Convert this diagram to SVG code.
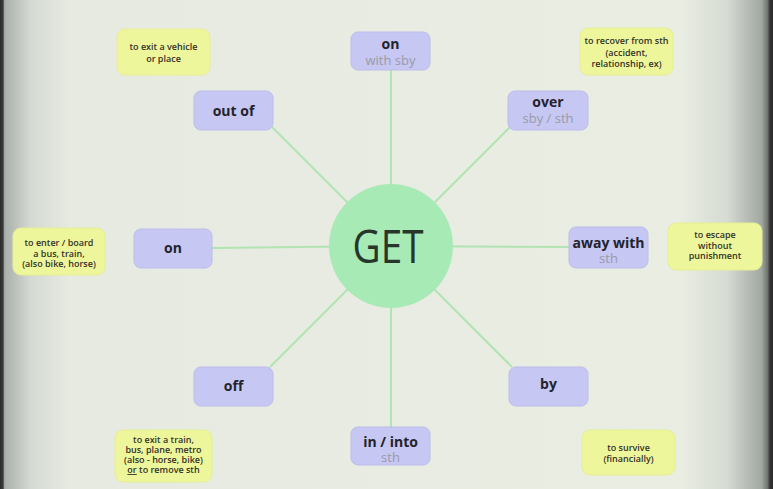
<svg xmlns="http://www.w3.org/2000/svg" width="773" height="489" viewBox="0 0 773 489">
<defs>
<linearGradient id="bg" x1="0" y1="0" x2="773" y2="0" gradientUnits="userSpaceOnUse">
<stop offset="0" stop-color="#2b2b2b"/>
<stop offset="0.004" stop-color="#3a3c3a"/>
<stop offset="0.006" stop-color="#a9afaa"/>
<stop offset="0.04" stop-color="#d5dad4"/>
<stop offset="0.09" stop-color="#e6eae1"/>
<stop offset="0.88" stop-color="#e9ede2"/>
<stop offset="0.94" stop-color="#d6dbd3"/>
<stop offset="0.985" stop-color="#a2a8a2"/>
<stop offset="0.993" stop-color="#6e736e"/>
<stop offset="0.996" stop-color="#333"/>
<stop offset="1" stop-color="#2a2a2a"/>
</linearGradient>
<style>
.lk{stroke:#b2e3b2;stroke-width:2;fill:none}
.pb{fill:#c6c7f3;stroke:#bcbdea;stroke-width:1}
.yb{fill:#eef69c;stroke:#e6ee94;stroke-width:1}
.m{font-family:"Open Sans","DejaVu Sans",sans-serif;font-weight:700;font-size:14px;fill:#23232b;text-anchor:middle}
.s{font-family:"Open Sans","DejaVu Sans",sans-serif;font-weight:400;font-size:13px;fill:#9a9aa6;text-anchor:middle}
.y{font-family:"Open Sans","DejaVu Sans",sans-serif;font-weight:600;font-size:9px;fill:#333328;text-anchor:middle}
.g{font-family:"Open Sans","DejaVu Sans",sans-serif;font-weight:400;font-size:45px;fill:#27362b;text-anchor:middle}
</style>
</defs>
<rect width="773" height="489" fill="url(#bg)"/>
<g id="connectors">
<line class="lk" x1="391" y1="246" x2="391" y2="70"/>
<line class="lk" x1="391" y1="246" x2="391" y2="427"/>
<line class="lk" x1="391" y1="246" x2="212" y2="248"/>
<line class="lk" x1="391" y1="246" x2="569" y2="247"/>
<line class="lk" x1="391" y1="246" x2="272" y2="127"/>
<line class="lk" x1="391" y1="246" x2="510" y2="127"/>
<line class="lk" x1="391" y1="246" x2="270" y2="367"/>
<line class="lk" x1="391" y1="246" x2="512" y2="367"/>
</g>
<g id="get">
<circle cx="391" cy="246" r="62" fill="#a8eab6"/>
<text class="g" x="388" y="263" textLength="71" lengthAdjust="spacingAndGlyphs">GET</text>
</g>
<g id="on-top">
<rect class="pb" x="351" y="32" width="79" height="38" rx="7"/>
<text class="m" x="390.5" y="49">on</text>
<text class="s" x="390.5" y="65">with sby</text>
</g>
<g id="over">
<rect class="pb" x="508" y="91" width="80" height="39" rx="7"/>
<text class="m" x="548" y="107">over</text>
<text class="s" x="548" y="123">sby / sth</text>
</g>
<g id="out-of">
<rect class="pb" x="194" y="91" width="79" height="39" rx="7"/>
<text class="m" x="233.5" y="115.5">out of</text>
</g>
<g id="on-left">
<rect class="pb" x="134" y="229" width="78" height="39" rx="7"/>
<text class="m" x="173" y="253">on</text>
</g>
<g id="away-with">
<rect class="pb" x="569" y="227" width="79" height="41" rx="7"/>
<text class="m" x="608.5" y="248">away with</text>
<text class="s" x="608.5" y="263">sth</text>
</g>
<g id="off">
<rect class="pb" x="194" y="367" width="79" height="39" rx="7"/>
<text class="m" x="233.5" y="391">off</text>
</g>
<g id="by">
<rect class="pb" x="509" y="367" width="79" height="39" rx="7"/>
<text class="m" x="548.5" y="389">by</text>
</g>
<g id="in-into">
<rect class="pb" x="351" y="427" width="79" height="38" rx="7"/>
<text class="m" x="390.5" y="447">in / into</text>
<text class="s" x="390.5" y="462">sth</text>
</g>
<g id="note-out-of">
<rect class="yb" x="117" y="29" width="93" height="46" rx="8"/>
<text class="y" x="163.5" y="50">to exit a vehicle</text>
<text class="y" x="163.5" y="62">or place</text>
</g>
<g id="note-over">
<rect class="yb" x="580" y="28" width="93" height="47" rx="8"/>
<text class="y" x="626.5" y="44">to recover from sth</text>
<text class="y" x="626.5" y="55.5">(accident,</text>
<text class="y" x="626.5" y="67">relationship, ex)</text>
</g>
<g id="note-on">
<rect class="yb" x="13" y="228" width="92" height="47" rx="8"/>
<text class="y" x="59" y="246">to enter / board</text>
<text class="y" x="59" y="256.5">a bus, train,</text>
<text class="y" x="59" y="267">(also bike, horse)</text>
</g>
<g id="note-away-with">
<rect class="yb" x="668" y="223" width="94" height="47" rx="8"/>
<text class="y" x="715" y="238">to escape</text>
<text class="y" x="715" y="248.5">without</text>
<text class="y" x="715" y="259">punishment</text>
</g>
<g id="note-off">
<rect class="yb" x="115" y="430" width="97" height="52" rx="8"/>
<text class="y" x="163.5" y="443">to exit a train,</text>
<text class="y" x="163.5" y="453">bus, plane, metro</text>
<text class="y" x="163.5" y="463">(also - horse, bike)</text>
<text class="y" x="163.5" y="473"><tspan text-decoration="underline">or</tspan> to remove sth</text>
</g>
<g id="note-by">
<rect class="yb" x="582" y="430" width="93" height="45" rx="8"/>
<text class="y" x="628.5" y="451">to survive</text>
<text class="y" x="628.5" y="462">(financially)</text>
</g>
</svg>
